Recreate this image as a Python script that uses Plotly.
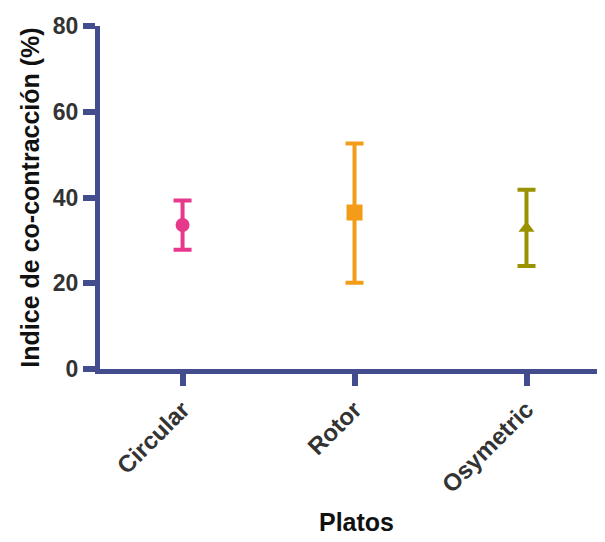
import plotly.graph_objects as go

categories = ["Circular", "Rotor", "Osymetric"]
means = [33.6, 36.5, 32.8]
upper = [39.3, 52.6, 41.8]
lower = [27.8, 20.1, 24.0]
colors = ["#e8388c", "#f39c18", "#9a9200"]
symbols = ["circle", "square", "triangle-up"]
sizes = [14, 16, 14]

axis_color = "#434c8c"
font_family = "Arial, Liberation Sans, sans-serif"

fig = go.Figure()
for i, c in enumerate(categories):
    fig.add_trace(go.Scatter(
        x=[c], y=[means[i]], mode="markers",
        marker=dict(color=colors[i], symbol=symbols[i], size=sizes[i]),
        error_y=dict(type="data", symmetric=False,
                     array=[upper[i] - means[i]], arrayminus=[means[i] - lower[i]],
                     color=colors[i], thickness=4, width=9),
        showlegend=False,
    ))

fig.update_layout(
    width=605, height=542,
    margin=dict(l=92, r=0, t=18, b=181),
    paper_bgcolor="white", plot_bgcolor="white",
    font=dict(family=font_family, color="#333333"),
)
fig.update_xaxes(
    type="category", range=[-0.48, 2.503],
    showline=True, linecolor=axis_color, linewidth=5,
    ticks="outside", ticklen=12, tickwidth=6, tickcolor=axis_color,
    tickangle=-45, tickfont=dict(size=24, family=font_family, color="#333333", weight="bold"),
    showgrid=False, zeroline=False,
    title=dict(text="<b>Platos</b>", font=dict(size=25, color="#111111"), standoff=18),
)
fig.update_yaxes(
    range=[0, 80], tickvals=[0, 20, 40, 60, 80],
    showline=True, linecolor=axis_color, linewidth=5,
    ticks="outside", ticklen=12, tickwidth=6, tickcolor=axis_color,
    tickfont=dict(size=23, family=font_family, color="#333333", weight="bold"),
    showgrid=False, zeroline=False,
    title=dict(text="<b>Indice de co-contracción (%)</b>", font=dict(size=25, color="#111111"), standoff=8),
)

fig.write_html("out.html")
